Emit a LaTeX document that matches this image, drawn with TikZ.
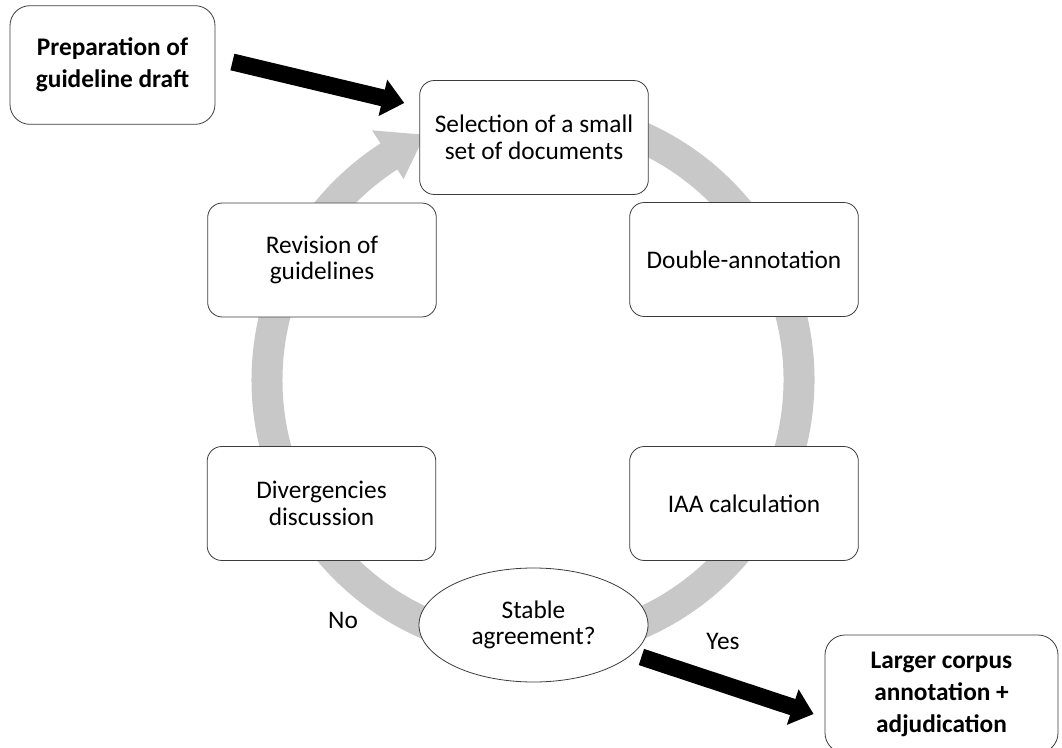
\documentclass[tikz,border=0pt]{standalone}
\usepackage{fontspec}
\setmainfont{Carlito}
\usetikzlibrary{shapes.geometric,arrows.meta,calc}

\definecolor{ringgray}{RGB}{200,200,200}
\definecolor{edgegray}{RGB}{60,60,60}

\tikzset{
  txt/.style={font=\fontsize{19}{20}\selectfont, align=center, text=black},
  cyclebox/.style={txt, rectangle, rounded corners=11pt, draw=edgegray, line width=0.6pt,
    fill=white, minimum width=171.5pt, minimum height=85.5pt, inner sep=2pt},
  sidebox/.style={txt, font=\fontsize{19}{24}\selectfont\bfseries, rectangle, rounded corners=15pt,
    draw=edgegray, line width=0.6pt, fill=white, minimum height=89pt, inner sep=2pt},
  decision/.style={txt, ellipse, draw=edgegray, line width=0.6pt, fill=white,
    minimum width=171.75pt, minimum height=85.5pt, inner sep=0pt},
  ring/.style={draw=ringgray, line width=23.25pt},
  bigarrow/.style={draw=black, line width=12.75pt,
    -{Triangle[width=27pt,length=16.5pt]}},
  lbl/.style={txt}
}

\begin{document}
\begin{tikzpicture}[x=0.75pt,y=0.75pt]
  \path[clip] (0,0) rectangle (1062,747);
  \useasboundingbox (0,0) rectangle (1062,747);

  % circular flow behind the cycle steps
  \coordinate (rc) at (533,367);
  \draw[ring] ([shift={(rc)}]85:199.5pt)
    arc[start angle=85, end angle=-237.5, radius=199.5pt];
  \fill[ringgray] ([shift={(rc)}]122.8:179.25pt) -- ([shift={(rc)}]113.8:201pt)
    -- ([shift={(rc)}]122.8:222.75pt) -- cycle;

  % cycle steps
  \node[cyclebox] (sel) at (534,609.5) {Selection of a small\\set of documents};
  \node[cyclebox] (dbl) at (744,487.5) {Double-annotation};
  \node[cyclebox] (iaa) at (744,243.5) {IAA calculation};
  \node[decision] (agr) at (533.5,122) {Stable\\agreement?};
  \node[cyclebox] (div) at (321.5,243.5) {Divergencies\\discussion};
  \node[cyclebox] (rev) at (322,487) {Revision of\\guidelines};

  % entry and exit
  \node[sidebox, minimum width=153.75pt] (prep) at (112.5,682) {Preparation of\\guideline draft};
  \node[sidebox, minimum width=174.75pt, minimum height=88.5pt] (big) at (941.5,53)
    {Larger corpus\\annotation +\\adjudication};

  \node[lbl] (no) at (343,127) {No};
  \node[lbl] (yes) at (723,106) {Yes};

  \draw[bigarrow] ($(prep.east)+(17,3)$) -- ($(sel.west)+(-15,34.5)$);
  \draw[bigarrow] ($(agr.east)+(-7,-32)$) -- ($(big.west)+(-11,-20)$);
\end{tikzpicture}
\end{document}
